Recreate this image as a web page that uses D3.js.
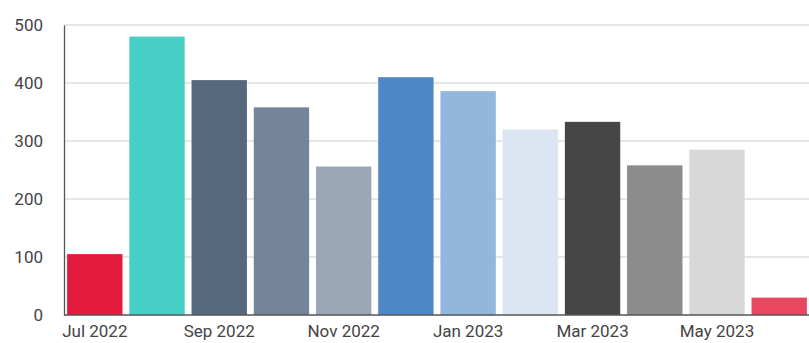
<!DOCTYPE html>
<html>
<head>
<meta charset="utf-8">
<script src="https://cdn.jsdelivr.net/npm/d3@7"></script>
<style>
  html, body { margin: 0; padding: 0; background: #fff; }
  svg { display: block; font-family: Roboto, "Noto Sans", sans-serif; }
</style>
</head>
<body>
<svg id="chart" width="809" height="343"></svg>
<script>
// Monthly totals, Jul 2022 – Jun 2023
const months = ["Jul 2022", "Aug 2022", "Sep 2022", "Oct 2022", "Nov 2022", "Dec 2022",
                "Jan 2023", "Feb 2023", "Mar 2023", "Apr 2023", "May 2023", "Jun 2023"];
const values = [105, 480, 405, 358, 256, 410, 386, 320, 333, 258, 285, 30];
const colors = ["#e31c3d", "#48cfc5", "#55687d", "#74849a", "#9aa6b4", "#4d87c7",
                "#93b6dd", "#dbe6f2", "#464646", "#8c8c8c", "#d8d8d8", "#e8485f"];
const yTicks = [0, 100, 200, 300, 400, 500];
const xTickLabels = ["Jul 2022", "Sep 2022", "Nov 2022", "Jan 2023", "Mar 2023", "May 2023"];

const svg = d3.select("#chart");
const margin = { left: 64, right: 810, top: 25, bottom: 315 };

const x = d3.scaleBand().domain(months).range([margin.left, margin.right])
  .paddingInner(0.11).paddingOuter(0.05);
const y = d3.scaleLinear().domain([0, 500]).range([margin.bottom, margin.top]);

// horizontal gridlines
svg.append("g")
  .selectAll("line")
  .data(yTicks.filter(d => d > 0))
  .join("line")
  .attr("x1", margin.left).attr("x2", 809)
  .attr("y1", d => y(d)).attr("y2", d => y(d))
  .attr("stroke", "#dedede").attr("stroke-width", 1.3);

// bars
svg.append("g")
  .selectAll("rect")
  .data(months)
  .join("rect")
  .attr("x", d => x(d))
  .attr("width", x.bandwidth())
  .attr("y", (d, i) => y(values[i]))
  .attr("height", (d, i) => margin.bottom - y(values[i]))
  .attr("fill", (d, i) => colors[i]);

// y axis
const yAxis = svg.append("g")
  .attr("transform", `translate(${margin.left},0)`)
  .call(d3.axisLeft(y).tickValues(yTicks).tickSize(0).tickPadding(21));
yAxis.select(".domain").attr("stroke", "#555").attr("stroke-width", 1.3);
yAxis.selectAll("text").attr("font-size", 17).attr("fill", "#444")
  .attr("font-family", "Roboto, sans-serif");

// x axis
const xAxis = svg.append("g")
  .attr("transform", `translate(0,${margin.bottom})`)
  .call(d3.axisBottom(x).tickValues(xTickLabels).tickSize(0).tickPadding(10));
xAxis.select(".domain").attr("stroke", "#555").attr("stroke-width", 1.3)
  .attr("d", `M${margin.left},0H809`);
xAxis.selectAll("text").attr("font-size", 17).attr("fill", "#444")
  .attr("font-family", "Roboto, sans-serif");
</script>
</body>
</html>
